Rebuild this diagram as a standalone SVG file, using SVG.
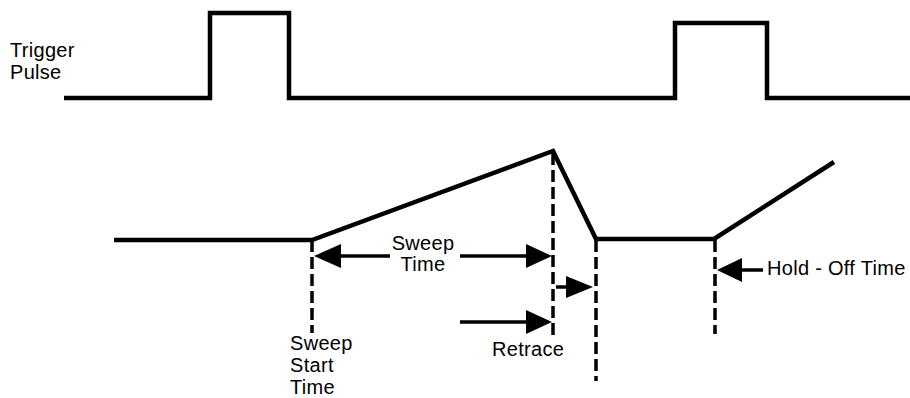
<svg xmlns="http://www.w3.org/2000/svg" width="910" height="398" viewBox="0 0 910 398">
<style>
.wave{fill:none;stroke:#000;stroke-width:4.5;stroke-linejoin:miter}
.dash{fill:none;stroke:#000;stroke-width:3.5;stroke-dasharray:12 5}
.arr{fill:none;stroke:#000;stroke-width:3.5}
.head{fill:#000}
text{font-family:"Liberation Sans",Arial,sans-serif;font-size:20px;letter-spacing:0.3px;fill:#000}
</style>
<rect width="910" height="398" fill="#fff"/>
<g id="trigger-pulse">
<polyline class="wave" points="64,98 210,98 210,13 289,13 289,98 675,98 675,23 767,23 767,98 910,98"/>
<text x="10" y="57">Trigger</text>
<text x="10" y="79">Pulse</text>
</g>
<g id="sweep-waveform">
<polyline class="wave" points="114,240 312,240 553,151 596,239 714,239 834,162"/>
</g>
<g id="connectors">
<line class="dash" x1="312" y1="240" x2="312" y2="333"/>
<line class="dash" x1="553" y1="153" x2="553" y2="335"/>
<line class="dash" x1="596" y1="240" x2="596" y2="381"/>
<line class="dash" x1="715" y1="240" x2="715" y2="334"/>
<line class="arr" x1="340" y1="256" x2="390" y2="256"/>
<polygon class="head" points="314,256 341,244 341,268"/>
<line class="arr" x1="460" y1="256" x2="528" y2="256"/>
<polygon class="head" points="552,256 526,244 526,268"/>
<line class="arr" x1="556" y1="287" x2="567" y2="287"/>
<polygon class="head" points="593,287 566,276 566,298"/>
<line class="arr" x1="460" y1="322" x2="528" y2="322"/>
<polygon class="head" points="552,322 526,310 526,334"/>
<line class="arr" x1="740" y1="270" x2="763" y2="270"/>
<polygon class="head" points="717,270 742,258 742,282"/>
</g>
<g id="label-sweep-time">
<text x="423" y="250" text-anchor="middle">Sweep</text>
<text x="423" y="271" text-anchor="middle">Time</text>
</g>
<g id="label-sweep-start">
<text x="290" y="350">Sweep</text>
<text x="290" y="372">Start</text>
<text x="290" y="394">Time</text>
</g>
<g id="label-retrace">
<text x="492" y="356">Retrace</text>
</g>
<g id="label-holdoff">
<text x="767" y="275">Hold - Off Time</text>
</g>
</svg>
